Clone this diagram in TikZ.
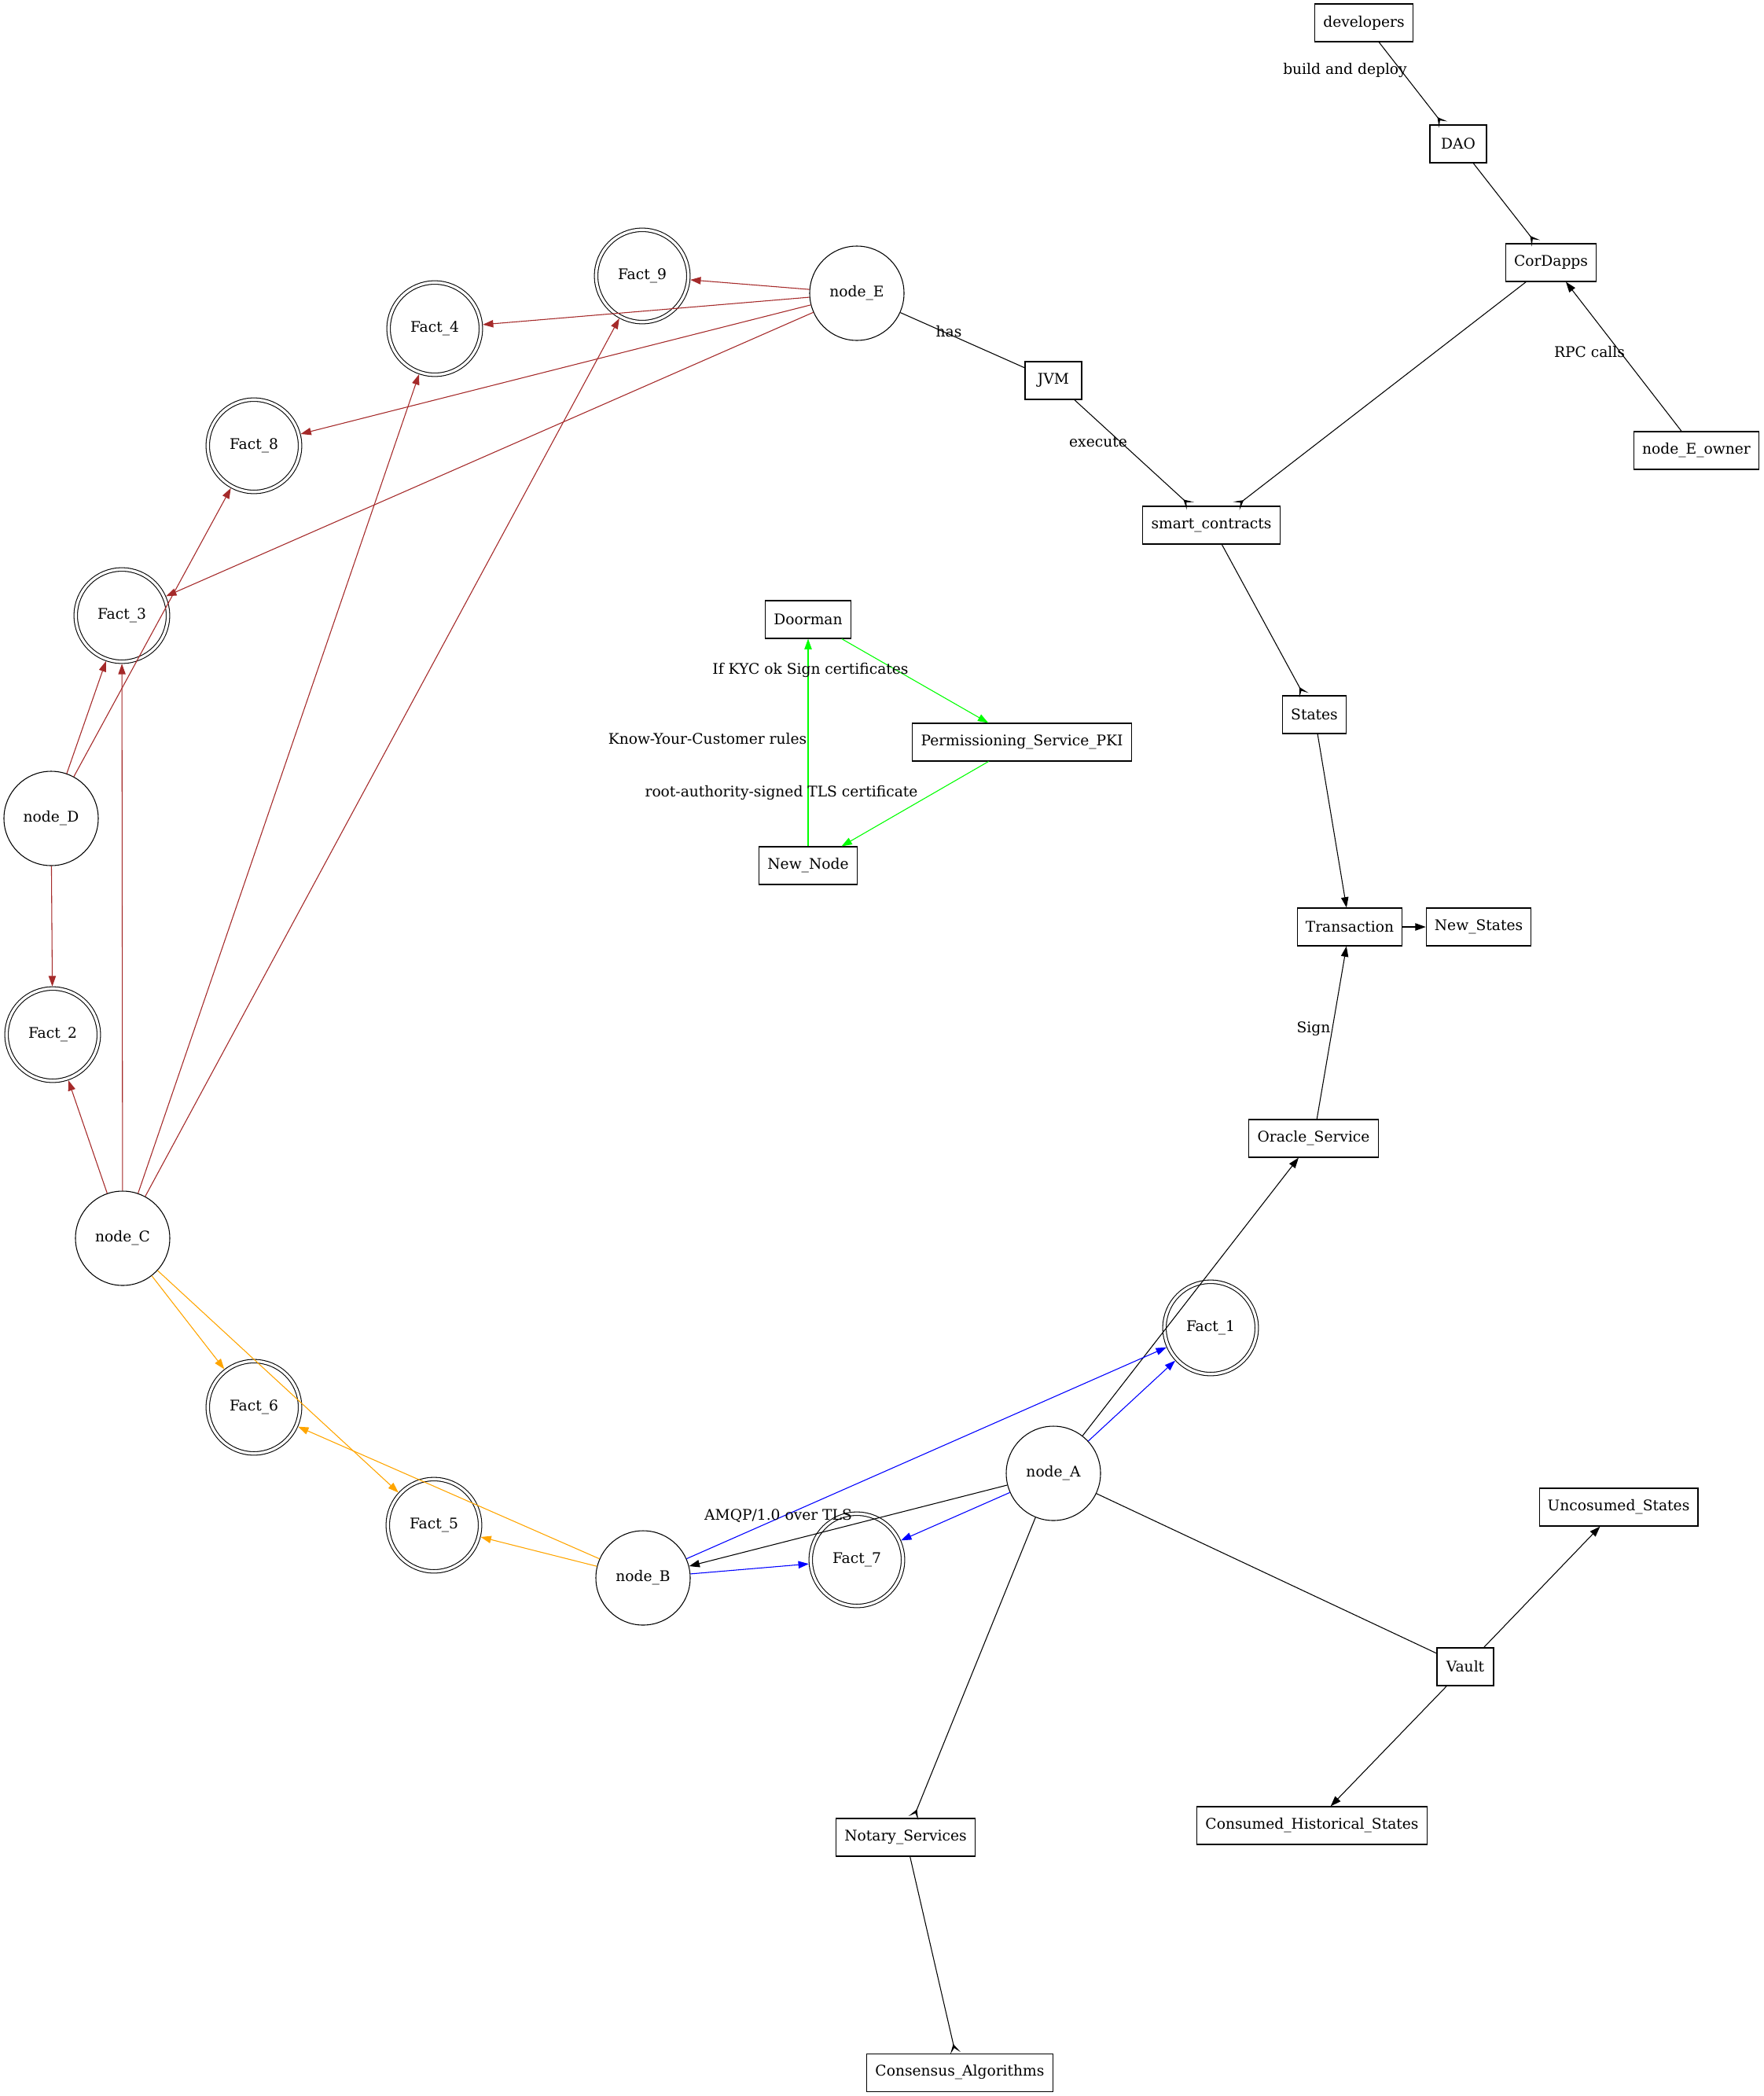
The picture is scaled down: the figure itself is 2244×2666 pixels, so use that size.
\documentclass[tikz,border=0pt]{standalone}
\usepackage{fontspec}
\setmainfont{DejaVu Serif}
\usetikzlibrary{arrows.meta}
\definecolor{gvbrown}{HTML}{A52A2A}
\definecolor{gvorange}{HTML}{FFA500}
\definecolor{gvgreen}{HTML}{00FF00}
\definecolor{gvblue}{HTML}{0000FF}
\begin{document}
\begin{tikzpicture}[x=0.75pt,y=-0.75pt,
  font=\fontsize{14pt}{16pt}\selectfont,
  gvbox/.style={draw, rectangle, minimum height=36pt, minimum width=54pt, inner xsep=8pt, line width=0.8pt},
  gvcirc/.style={draw, circle, minimum size=90pt, inner sep=0pt, line width=0.8pt},
  gvfact/.style={draw, circle, double, double distance=2.5pt, minimum size=88pt, inner sep=0pt, line width=0.8pt, outer sep=2pt},
  gvlabel/.style={inner sep=0pt},
  gvline/.style={line width=0.8pt},
  triarr/.style={gvline, -{Triangle[length=10pt,width=7pt]}},
  crowarr/.style={gvline, -{Stealth[reversed,length=9pt,width=10pt,inset=5pt]}},
  brownarr/.style={triarr, draw=gvbrown, fill=gvbrown},
  orangearr/.style={triarr, draw=gvorange, fill=gvorange},
  greenarr/.style={triarr, draw=gvgreen, fill=gvgreen},
  bluearr/.style={triarr, draw=gvblue, fill=gvblue}
]
\useasboundingbox (0,0) rectangle (2244,2666);

% boxes
\node[gvbox] (developers) at (1735,29) {developers};
\node[gvbox] (DAO) at (1855,183) {DAO};
\node[gvbox] (CorDapps) at (1973,334) {CorDapps};
\node[gvbox] (nodeEowner) at (2158,573) {node\_E\_owner};
\node[gvbox] (JVM) at (1340,484) {JVM};
\node[gvbox] (smart) at (1541,668) {smart\_contracts};
\node[gvbox] (States) at (1672,909) {States};
\node[gvbox] (Transaction) at (1717,1179) {Transaction};
\node[gvbox] (NewStates) at (1881,1179) {New\_States};
\node[gvbox] (Oracle) at (1671,1448) {Oracle\_Service};
\node[gvbox] (Doorman) at (1028,788) {Doorman};
\node[gvbox] (PKI) at (1300,944) {Permissioning\_Service\_PKI};
\node[gvbox] (NewNode) at (1028,1101) {New\_Node};
\node[gvbox] (Uncosumed) at (2059,1917) {Uncosumed\_States};
\node[gvbox] (Vault) at (1864,2120) {Vault};
\node[gvbox] (Consumed) at (1669,2322) {Consumed\_Historical\_States};
\node[gvbox] (Notary) at (1152,2337) {Notary\_Services};
\node[gvbox] (Consensus) at (1221,2636) {Consensus\_Algorithms};

% circles
\node[gvcirc] (nodeE) at (1090,373) {node\_E};
\node[gvcirc] (nodeD) at (65,1041) {node\_D};
\node[gvcirc] (nodeC) at (156,1575) {node\_C};
\node[gvcirc] (nodeB) at (818,2007) {node\_B};
\node[gvcirc] (nodeA) at (1340,1874) {node\_A};

% facts
\node[gvfact] (Fact9) at (817,351) {Fact\_9};
\node[gvfact] (Fact4) at (553,418) {Fact\_4};
\node[gvfact] (Fact8) at (323,567) {Fact\_8};
\node[gvfact] (Fact3) at (155,783) {Fact\_3};
\node[gvfact] (Fact2) at (67,1316) {Fact\_2};
\node[gvfact] (Fact6) at (323,1790) {Fact\_6};
\node[gvfact] (Fact5) at (552,1940) {Fact\_5};
\node[gvfact] (Fact7) at (1090,1984) {Fact\_7};
\node[gvfact] (Fact1) at (1540,1689) {Fact\_1};

% black edges
\draw[crowarr] (developers) -- (DAO);
\draw[crowarr] (DAO) -- (CorDapps);
\draw[crowarr] (CorDapps) -- (smart);
\draw[triarr] (nodeEowner) -- (CorDapps);
\draw[gvline] (nodeE) -- (JVM);
\draw[crowarr] (JVM) -- (smart);
\draw[crowarr] (smart) -- (States);
\draw[triarr] (States) -- (Transaction);
\draw[triarr] (Transaction) -- (NewStates);
\draw[triarr] (Oracle) -- (Transaction);
\draw[triarr] (nodeA) -- (Oracle);
\draw[triarr] (nodeA) -- (nodeB);
\draw[gvline] (nodeA) -- (Vault);
\draw[triarr] (Vault) -- (Uncosumed);
\draw[triarr] (Vault) -- (Consumed);
\draw[crowarr] (nodeA) -- (Notary);
\draw[crowarr] (Notary) -- (Consensus);

% green edges
\draw[greenarr] (Doorman) -- (PKI);
\draw[greenarr] (PKI) -- (NewNode);
\draw[greenarr] (NewNode) -- (Doorman);

% blue edges
\draw[bluearr] (nodeA) -- (Fact1);
\draw[bluearr] (nodeA) -- (Fact7);
\draw[bluearr] (nodeB) -- (Fact1);
\draw[bluearr] (nodeB) -- (Fact7);

% brown edges
\draw[brownarr] (nodeE) -- (Fact9);
\draw[brownarr] (nodeE) -- (Fact4);
\draw[brownarr] (nodeE) -- (Fact8);
\draw[brownarr] (nodeE) -- (Fact3);
\draw[brownarr] (nodeD) -- (Fact3);
\draw[brownarr] (nodeD) -- (Fact8);
\draw[brownarr] (nodeD) -- (Fact2);
\draw[brownarr] (nodeC) -- (Fact2);
\draw[brownarr] (nodeC) -- (Fact3);
\draw[brownarr] (nodeC) -- (Fact4);
\draw[brownarr] (nodeC) -- (Fact9);

% orange edges
\draw[orangearr] (nodeC) -- (Fact6);
\draw[orangearr] (nodeC) -- (Fact5);
\draw[orangearr] (nodeB) -- (Fact6);
\draw[orangearr] (nodeB) -- (Fact5);

% edge labels
\node[gvlabel] (lbuild) at (1711,89) {build and deploy};
\node[gvlabel] (lrpc) at (2022,448) {RPC calls};
\node[gvlabel] (lhas) at (1207,422) {has};
\node[gvlabel] (lexec) at (1397,562) {execute};
\node[gvlabel] (lsign) at (1671,1309) {Sign};
\node[gvlabel] (lamqp) at (990,1928) {AMQP/1.0 over TLS};
\node[gvlabel] (lkyc) at (1031,852) {If KYC ok Sign certificates};
\node[gvlabel] (lknow) at (900,940) {Know-Your-Customer rules};
\node[gvlabel] (lroot) at (994,1008) {root-authority-signed TLS certificate};
\end{tikzpicture}
\end{document}
